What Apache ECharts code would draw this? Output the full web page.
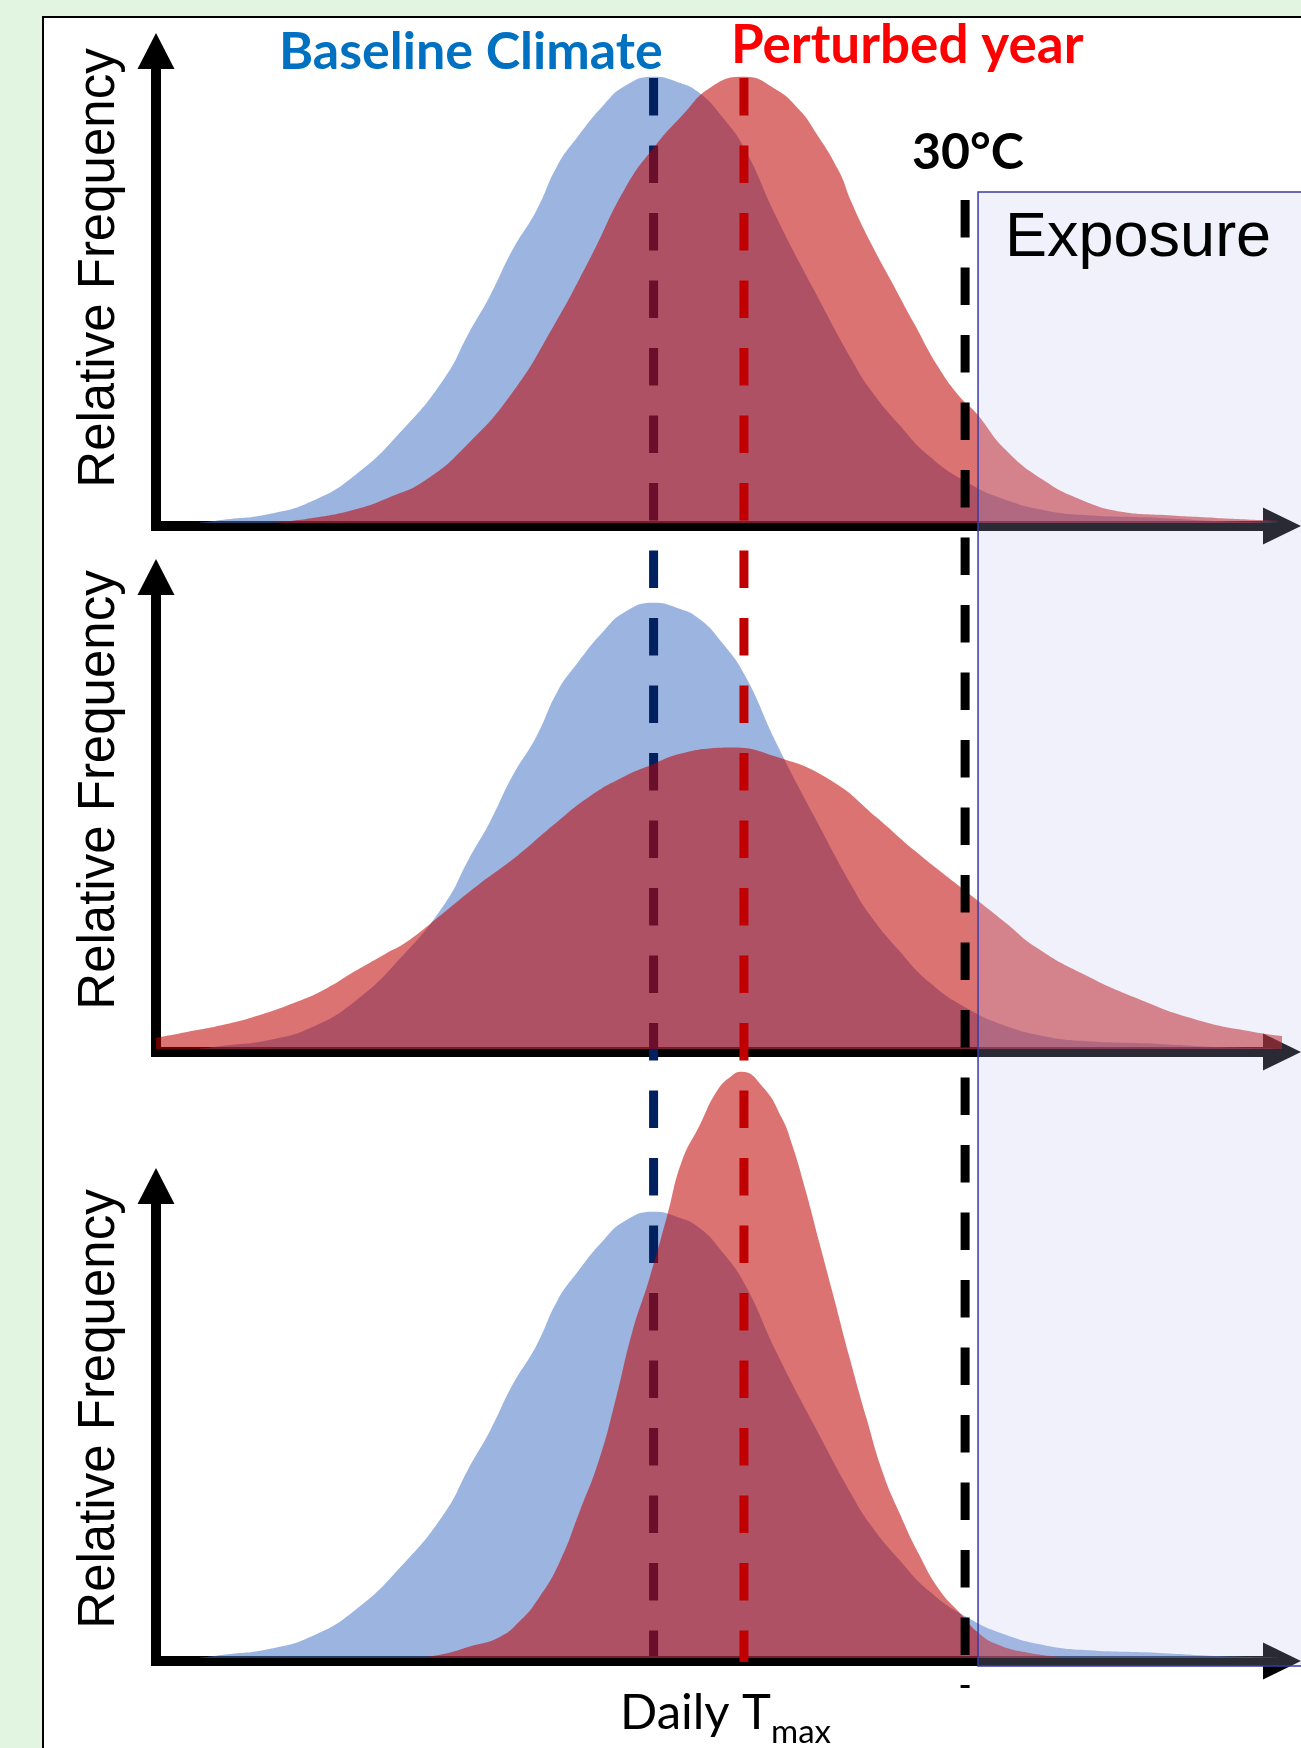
<!DOCTYPE html>
<html>
<head>
<meta charset="utf-8">
<script src="https://cdn.jsdelivr.net/npm/echarts@6.0.0/dist/echarts.min.js"></script>
<style>
html,body{margin:0;padding:0;background:#e2f5e0;}
#chart{width:1301px;height:1748px;}
</style>
</head>
<body>
<div id="chart"></div>
<script>
// ---------- DATA (x = daily Tmax in °C, y = relative frequency, baseline peak = 100) ----------
const baselineClimate = [[1.6,0],[2.5,0.7],[4.2,2.0],[5.8,4.9],[7.4,10.8],[9.1,20.6],[10.7,32.5],[11.6,42.6],[12.4,51.1],[13.2,61.0],[14.1,70.0],[14.9,80.3],[15.6,86.3],[16.6,93.7],[17.4,98.0],[18.45,100],[19.3,98.9],[20.15,96.4],[21.0,91.0],[21.85,83.6],[23.0,68.6],[24.4,52.2],[25.8,36.5],[26.5,29.8],[27.5,22.4],[28.7,14.8],[30.1,9.0],[31.5,5.2],[32.9,2.9],[34.3,1.8],[37.2,1.1],[39.4,0.4],[41.6,0]];
const perturbedShift = [[4.3,0],[5.8,1.1],[7.3,2.9],[8.6,5.6],[10.0,9.6],[11.6,17.9],[13.2,29.1],[14.7,43.7],[16.1,59.4],[17.4,75.1],[18.45,84.1],[19.5,91.3],[20.6,97.8],[21.8,100],[23.0,97.1],[23.85,92.6],[24.4,88.1],[25.3,79.1],[25.8,71.7],[26.5,62.8],[27.3,53.8],[28.1,44.8],[29.0,35.0],[29.8,28.3],[30.4,24.7],[31.5,16.4],[32.9,9.6],[34.3,5.2],[35.8,2.5],[37.2,1.8],[39.3,1.1],[40.7,0.7],[41.75,0.4]];
const perturbedWider = [[0,2.5],[1.15,3.8],[2.5,5.4],[3.85,7.6],[5.2,10.5],[6.3,13.5],[7.4,17.5],[8.5,21.3],[9.3,24.0],[10.7,30.7],[12.0,37.0],[13.4,43.3],[14.7,50.0],[16.1,56.7],[17.4,61.2],[18.45,63.9],[19.4,66.1],[20.85,67.5],[21.3,67.6],[23.0,65.5],[25.0,60.3],[26.7,52.0],[28.1,44.6],[30.1,35.0],[31.5,28.3],[32.6,22.9],[34.3,17.0],[36.5,11.0],[38.6,6.5],[40.7,3.8],[41.75,2.9]];
const perturbedNarrow = [[9.8,0],[10.7,0.9],[11.6,2.5],[12.75,4.7],[13.5,8.3],[14.2,13.5],[14.95,21.3],[15.7,32.7],[16.45,44.8],[17.05,58.1],[17.65,72.9],[18.3,85.2],[18.95,99.1],[19.5,111.4],[20.15,119.3],[20.8,127.1],[21.35,130.5],[21.7,131.4],[22.5,128.0],[23.2,121.1],[23.6,114.8],[24.1,104.5],[24.6,93.0],[25.1,81.6],[25.7,67.7],[26.35,53.6],[26.95,41.5],[27.55,32.7],[28.3,23.1],[29.05,15.2],[29.8,10.1],[30.5,5.6],[31.25,2.9],[32.4,1.1],[33.85,0]];
const baselineMean = 18.45;
const perturbedMean = 21.8;
const threshold = 30;
const exposureStart = 30.48;
const labels = {
  baseline: 'Baseline Climate',
  perturbed: 'Perturbed year',
  threshold: '30°C',
  exposure: 'Exposure',
  yName: 'Relative Frequency',
  xName: 'Daily T',
  xSub: 'max'
};

// ---------- LAYOUT / STYLE ----------
const W = 1301, H = 1748;
const XMAX = 41.75, YMIN = -0.7, YMAX = 105.8;
const GRID_LEFT = 156, GRID_RIGHT = 19, GRID_H = 475;
const panelTops = [51, 577, 1186];
const BLUE_FILL = 'rgba(68,114,196,0.53)';
const RED_FILL = 'rgba(192,0,0,0.55)';
const DASH = [37.5, 30];

const chart = echarts.init(document.getElementById('chart'), null, {renderer: 'canvas', width: W, height: H});

const grids = panelTops.map(t => ({left: GRID_LEFT, right: GRID_RIGHT, top: t, height: GRID_H, outerBoundsMode: 'none'}));
grids.push({left: GRID_LEFT, right: GRID_RIGHT, top: 0, height: H, outerBoundsMode: 'none'});

const hidden = {axisTick: {show: false}, axisLabel: {show: false}, splitLine: {show: false}};
const xAxes = panelTops.map((t, i) => Object.assign({
  gridIndex: i, type: 'value', min: 0, max: XMAX, z: 1,
  axisLine: {show: true, onZero: false, symbol: ['none', 'triangle'], symbolSize: [37, 38],
    lineStyle: {color: '#000', width: 10, cap: 'square'}}
}, hidden));
xAxes.push(Object.assign({gridIndex: 3, type: 'value', min: 0, max: XMAX, show: false}, hidden));
const yAxes = panelTops.map((t, i) => Object.assign({
  gridIndex: i, type: 'value', min: YMIN, max: YMAX, z: 1,
  axisLine: {show: true, onZero: false, symbol: ['none', 'triangle'], symbolSize: [37, 36],
    lineStyle: {color: '#000', width: 10, cap: 'square'}}
}, hidden));
yAxes.push(Object.assign({gridIndex: 3, type: 'value', min: 0, max: H, inverse: true, show: false}, hidden));

function area(data, i, color, z, clip) {
  return {type: 'line', xAxisIndex: i, yAxisIndex: i, data: data, z: z, clip: clip !== false,
    smooth: 0.5, symbol: 'none', showSymbol: false, silent: true,
    lineStyle: {width: 0}, areaStyle: {color: color, opacity: 1}};
}
function vline(x, top, bottom, color, width, z) {
  return {type: 'line', xAxisIndex: 3, yAxisIndex: 3, data: [[x, top], [x, bottom]], z: z,
    symbol: 'none', showSymbol: false, silent: true, clip: false,
    lineStyle: {color: color, width: width, type: DASH, cap: 'butt'}};
}

const series = [
  area(baselineClimate, 0, BLUE_FILL, 2),
  area(baselineClimate, 1, BLUE_FILL, 2),
  area(baselineClimate, 2, BLUE_FILL, 2),
  vline(baselineMean, 78, 1656, '#002060', 9, 3),
  area(perturbedShift, 0, RED_FILL, 4),
  area(perturbedWider, 1, RED_FILL, 4),
  area(perturbedNarrow, 2, RED_FILL, 4, false),
  vline(perturbedMean, 78, 1662, '#C00000', 9, 5),
  vline(threshold, 200, 1688, '#000000', 9, 6),
  {
    type: 'custom', xAxisIndex: 3, yAxisIndex: 3, z: 7, silent: true, clip: false,
    data: [[exposureStart, XMAX + 2]],
    renderItem: function (params, api) {
      const tl = api.coord([api.value(0), 192]);
      const br = api.coord([api.value(1), 1666]);
      return {type: 'rect', shape: {x: tl[0], y: tl[1], width: br[0] - tl[0], height: br[1] - tl[1]},
        style: {fill: 'rgba(187,191,232,0.22)', stroke: '#3b3ba6', lineWidth: 1.5}};
    }
  }
];

const txt = (text, x, y, font, fill, align, rot) => ({
  type: 'text', x: x, y: y, rotation: rot || 0, z: 100, silent: true,
  style: {text: text, font: font, fill: fill, textAlign: align || 'left', textVerticalAlign: 'middle', verticalAlign: 'middle'}
});

const graphic = [
  {type: 'rect', z: -1, silent: true, shape: {x: 43, y: 17, width: 1320, height: 1800},
    style: {fill: '#ffffff', stroke: '#000000', lineWidth: 2}},
  txt(labels.baseline, 279, 52, 'bold 52px Lato', '#0070C0'),
  txt(labels.perturbed, 731, 46, 'bold 53px Lato', '#FF0000'),
  txt(labels.threshold, 912, 153, 'bold 50px Lato', '#000000'),
  txt(labels.exposure, 1005, 239, '63px "Liberation Sans"', '#000000'),
  txt(labels.yName, 100, 268, '51px "Liberation Sans"', '#000000', 'center', Math.PI / 2),
  txt(labels.yName, 100, 790, '51px "Liberation Sans"', '#000000', 'center', Math.PI / 2),
  txt(labels.yName, 100, 1409, '51px "Liberation Sans"', '#000000', 'center', Math.PI / 2),
  txt(labels.xName, 620, 1713, '49px Lato', '#000000'),
  txt(labels.xSub, 771, 1732, '33px Lato', '#000000')
];

chart.setOption({
  animation: false,
  backgroundColor: '#e2f5e0',
  grid: grids,
  xAxis: xAxes,
  yAxis: yAxes,
  series: series,
  graphic: graphic
});
</script>
</body>
</html>
